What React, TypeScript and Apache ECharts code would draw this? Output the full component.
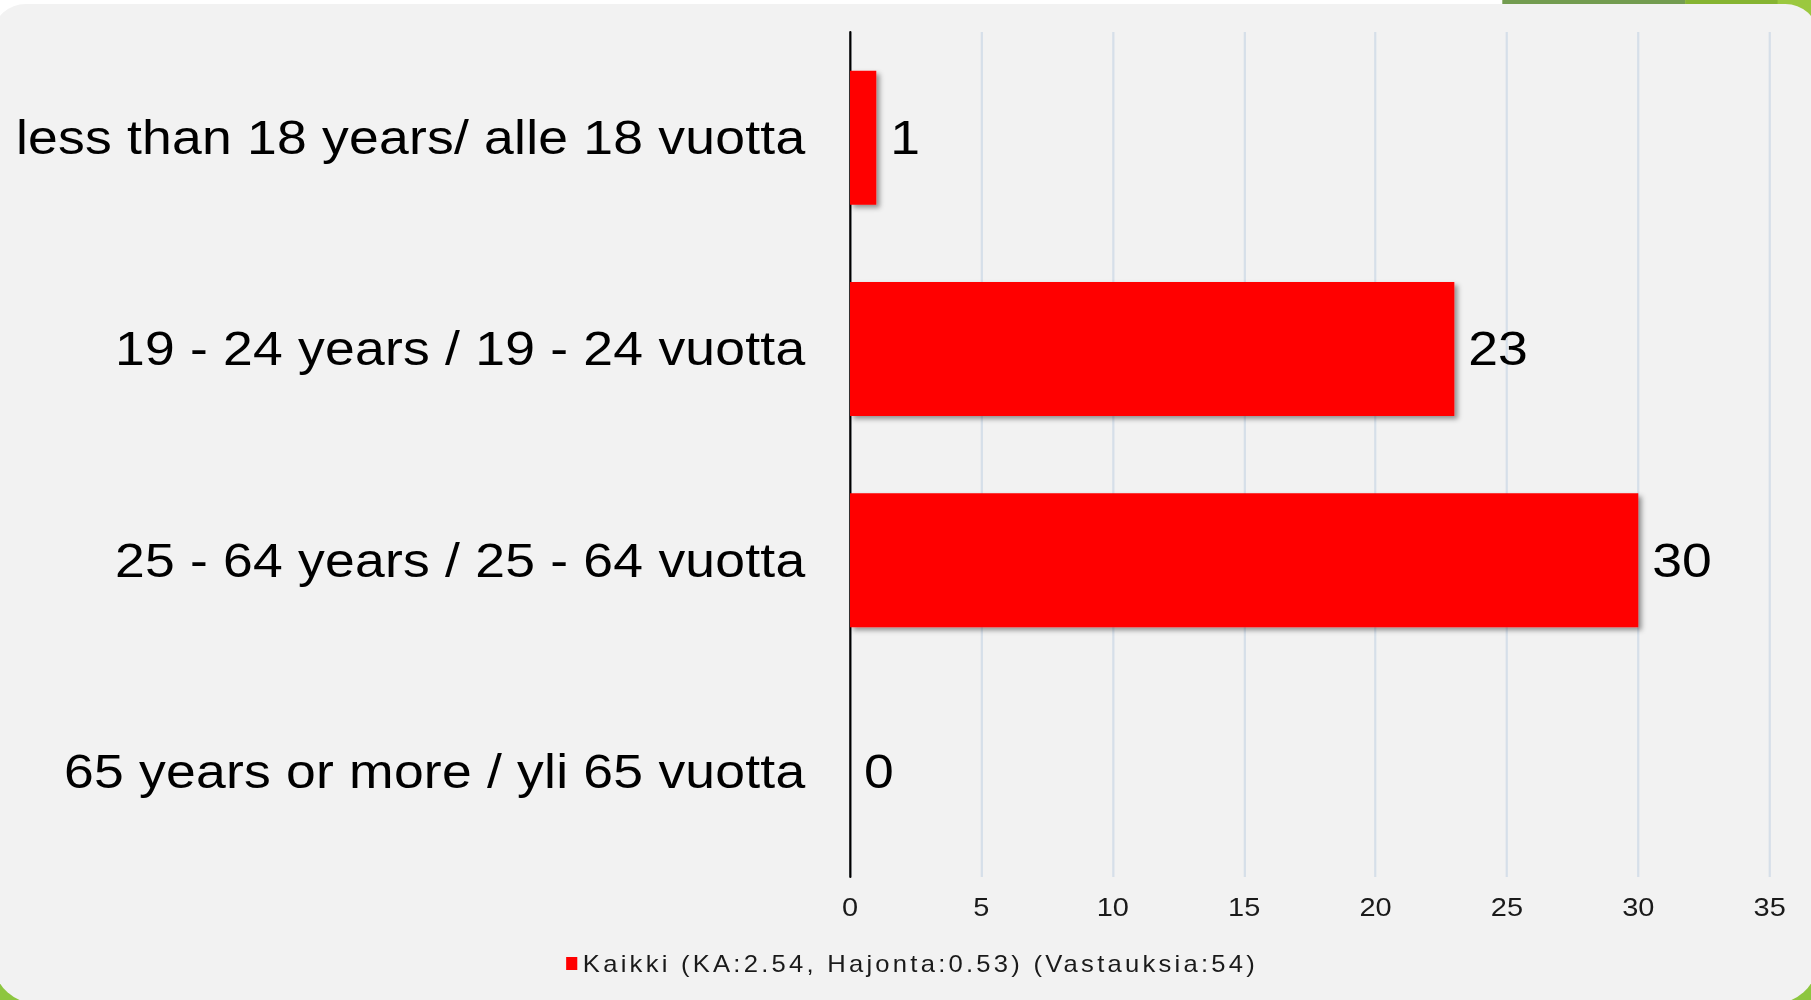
import React, { useEffect, useRef } from "react";
import * as echarts from "echarts";

const categories = [
  "less than 18 years/ alle 18 vuotta",
  "19 - 24 years / 19 - 24 vuotta",
  "25 - 64 years / 25 - 64 vuotta",
  "65 years or more / yli 65 vuotta",
];
const values = [1, 23, 30, 0];
const seriesName = "Kaikki (KA:2.54, Hajonta:0.53) (Vastauksia:54)";
const axisMax = 35;
const axisStep = 5;

const STRETCH = 1811 / 1625;
const FONT = '"Liberation Sans", Arial, Helvetica, sans-serif';

export default function App() {
  const ref = useRef<HTMLDivElement>(null);

  useEffect(() => {
    if (!ref.current) return;
    const chart = echarts.init(ref.current, undefined, { renderer: "svg" });
    chart.setOption({
      animation: false,
      backgroundColor: "#ffffff",
      textStyle: { fontFamily: FONT },
      graphic: {
        elements: [
          {
            type: "rect",
            z: -5,
            silent: true,
            shape: { x: 1348, y: 0, width: 164, height: 60 },
            style: { fill: "#739c50" },
          },
          {
            type: "rect",
            z: -5,
            silent: true,
            shape: { x: 1512, y: 0, width: 113, height: 60 },
            style: { fill: "#86b432" },
          },
          {
            type: "rect",
            z: -5,
            silent: true,
            shape: { x: 1595, y: 0, width: 30, height: 60 },
            style: { fill: "#9bc83f" },
          },
          {
            type: "rect",
            z: -5,
            silent: true,
            shape: { x: 0, y: 940, width: 60, height: 60 },
            style: { fill: "#8dc63f" },
          },
          {
            type: "rect",
            z: -5,
            silent: true,
            shape: { x: 1565, y: 940, width: 60, height: 60 },
            style: { fill: "#8dc63f" },
          },
          {
            type: "rect",
            z: -4,
            silent: true,
            shape: { x: -5, y: 4, width: 1635, height: 1000, r: [28, 28, 40, 40] },
            style: { fill: "#f2f2f2" },
          },
        ],
      },
      grid: { left: 762.7, right: 37.1, top: 32, bottom: 123, containLabel: false },
      legend: {
        left: 503,
        top: 947,
        icon: "rect",
        itemWidth: 10,
        itemHeight: 13,
        textStyle: { fontSize: 23, color: "#1a1a1a", fontFamily: FONT },
        data: [seriesName],
      },
      xAxis: {
        type: "value",
        min: 0,
        max: axisMax,
        interval: axisStep,
        axisLine: { show: false },
        axisTick: { show: false },
        axisLabel: { fontSize: 26, color: "#1a1a1a", margin: 17, fontFamily: FONT },
        splitLine: { show: true, lineStyle: { color: "#d6dfe9", width: 2 } },
      },
      yAxis: {
        type: "category",
        inverse: true,
        data: categories,
        axisLine: { show: true, lineStyle: { color: "#000000", width: 2 } },
        axisTick: { show: false },
        axisLabel: { fontSize: 48, color: "#000000", margin: 40, fontFamily: FONT },
        splitLine: { show: false },
      },
      series: [
        {
          name: seriesName,
          type: "bar",
          data: values,
          barWidth: 134,
          itemStyle: {
            color: "#ff0000",
            shadowColor: "rgba(0,0,0,0.4)",
            shadowBlur: 5,
            shadowOffsetX: 3,
            shadowOffsetY: 3,
          },
          label: {
            show: true,
            position: "right",
            distance: 12.5,
            fontSize: 48,
            color: "#000000",
            fontFamily: FONT,
          },
        },
      ],
    });
    const texts = ref.current.querySelectorAll("text");
    texts.forEach((t) => {
      const c = t.textContent || "";
      if (c === seriesName) {
        t.setAttribute("letter-spacing", "2.9");
      } else if (categories.indexOf(c) >= 0) {
        t.setAttribute("letter-spacing", "0.2");
      }
    });
    return () => chart.dispose();
  }, []);

  return (
    <div
      style={{
        position: "absolute",
        left: 0,
        top: 0,
        width: 1811,
        height: 1000,
        overflow: "hidden",
        background: "#ffffff",
      }}
    >
      <div
        ref={ref}
        style={{
          width: 1625,
          height: 1000,
          transform: `scaleX(${STRETCH})`,
          transformOrigin: "0 0",
        }}
      />
    </div>
  );
}
